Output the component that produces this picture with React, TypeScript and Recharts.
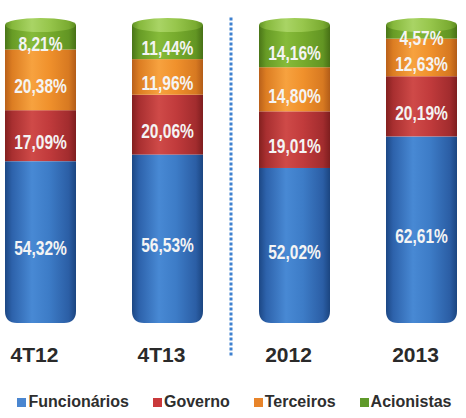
import React from 'react';
import { BarChart, Bar, XAxis, YAxis, LabelList, Legend, ReferenceLine } from 'recharts';

const categories = ['4T12', '4T13', '2012', '2013'];
const funcionarios = [54.32, 56.53, 52.02, 62.61];
const governo = [17.09, 20.06, 19.01, 20.19];
const terceiros = [20.38, 11.96, 14.8, 12.63];
const acionistas = [8.21, 11.44, 14.16, 4.57];

const seriesNames = ['Funcionários', 'Governo', 'Terceiros', 'Acionistas'];

const data = categories.map((c, i) => ({
  cat: c,
  f: funcionarios[i],
  g: governo[i],
  t: terceiros[i],
  a: acionistas[i],
}));

const FONT = '"Liberation Sans", Arial, sans-serif';

const grads: Record<string, string[]> = {
  blue: ['#1c4784', '#2d62ab', '#4889d4', '#3d7cc7', '#2b5ea5', '#1b4580'],
  red: ['#83201f', '#a82f30', '#cf4a48', '#c13b3c', '#a22c2e', '#7e1e1f'],
  orange: ['#b9601a', '#dc7d22', '#f7a23f', '#f0912c', '#d77921', '#b25c18'],
  green: ['#4a7518', '#679b25', '#86bb3a', '#77ab2d', '#629523', '#477016'],
  greenTop: ['#5e8f22', '#86b83c', '#a9d465', '#97c64c', '#7aab31', '#5a8a1f'],
};
const stops = [0, 0.1, 0.38, 0.62, 0.9, 1];

const Defs = () => (
  <defs>
    {Object.keys(grads).map((k) => (
      <linearGradient key={k} id={`cyl-${k}`} x1="0" y1="0" x2="1" y2="0">
        {grads[k].map((c, i) => (
          <stop key={i} offset={stops[i]} stopColor={c} />
        ))}
      </linearGradient>
    ))}
  </defs>
);

const bottomShape = (props: any) => {
  const { x, y, width: w, height: h } = props;
  const r = 12;
  const d = `M${x},${y} H${x + w} V${y + h - r} Q${x + w},${y + h} ${x + w - r},${y + h} H${x + r} Q${x},${y + h} ${x},${y + h - r} Z`;
  return <path d={d} fill="url(#cyl-blue)" />;
};

const midShape = (key: string) => (props: any) => {
  const { x, y, width: w, height: h } = props;
  return <rect x={x} y={y} width={w} height={h} fill={`url(#cyl-${key})`} />;
};

const topShape = (props: any) => {
  const { x, y, width: w, height: h } = props;
  return (
    <g>
      <rect x={x} y={y} width={w} height={h} fill="url(#cyl-green)" />
      <ellipse cx={x + w / 2} cy={y} rx={w / 2} ry={7} fill="url(#cyl-greenTop)" />
    </g>
  );
};

const renderLabel = (props: any) => {
  const { x, y, width, height, value } = props;
  const cx = x + width / 2;
  const cy = y + height / 2 + 6;
  const txt = `${Number(value).toFixed(2).replace('.', ',')}%`;
  return (
    <text
      transform={`translate(${cx},${cy}) scale(0.74,1)`}
      textAnchor="middle"
      dominantBaseline="central"
      fill="#f4f4f4"
      fontFamily={FONT}
      fontWeight="bold"
      fontSize={21}
    >
      {txt}
    </text>
  );
};

const legendColors = ['#4a86d0', '#c9393b', '#e8842a', '#5f9a2a'];

const renderLegend = () => (
  <div
    style={{
      display: 'flex',
      justifyContent: 'center',
      alignItems: 'center',
      height: 30,
      paddingLeft: 7,
      fontFamily: FONT,
      fontWeight: 'bold',
      fontSize: 16,
      color: '#2e2e2e',
    }}
  >
    {seriesNames.map((n, i) => (
      <div key={n} style={{ display: 'flex', alignItems: 'center', marginLeft: i === 0 ? 0 : 24 }}>
        <span style={{ display: 'inline-block', width: 9, height: 9, background: legendColors[i], marginRight: 2 }} />
        <span>{n}</span>
      </div>
    ))}
  </div>
);

export default function App() {
  return (
    <div style={{ position: 'absolute', left: 0, top: 0, width: 466, height: 418, overflow: 'hidden', background: '#fff' }}>
      <div style={{ marginLeft: -23 }}>
        <BarChart width={508} height={418} data={data} margin={{ top: 25, right: 0, bottom: 1, left: 0 }} barSize={71}>
          <Defs />
          <XAxis
            dataKey="cat"
            axisLine={false}
            tickLine={false}
            height={64}
            tickMargin={18}
            tick={{ fill: '#2a2a2a', fontSize: 21, fontWeight: 'bold', fontFamily: FONT, dx: -6 }}
            interval={0}
          />
          <YAxis hide domain={[0, 100]} />
          <Legend verticalAlign="bottom" content={renderLegend} />
          <Bar dataKey="f" name={seriesNames[0]} stackId="s" fill="#3d7cc7" shape={bottomShape} isAnimationActive={false}>
            <LabelList dataKey="f" content={renderLabel} />
          </Bar>
          <Bar dataKey="g" name={seriesNames[1]} stackId="s" fill="#c13b3c" shape={midShape('red')} isAnimationActive={false}>
            <LabelList dataKey="g" content={renderLabel} />
          </Bar>
          <Bar dataKey="t" name={seriesNames[2]} stackId="s" fill="#f0912c" shape={midShape('orange')} isAnimationActive={false}>
            <LabelList dataKey="t" content={renderLabel} />
          </Bar>
          <Bar dataKey="a" name={seriesNames[3]} stackId="s" fill="#77ab2d" shape={topShape} isAnimationActive={false}>
            <LabelList dataKey="a" content={renderLabel} />
          </Bar>
          <ReferenceLine
            position="end"
            segment={[
              { x: '4T13', y: 102.5 },
              { x: '4T13', y: -11.5 },
            ]}
            ifOverflow="visible"
            stroke="#3d80d0"
            strokeWidth={3}
            strokeDasharray="3 2"
          />
        </BarChart>
      </div>
    </div>
  );
}
